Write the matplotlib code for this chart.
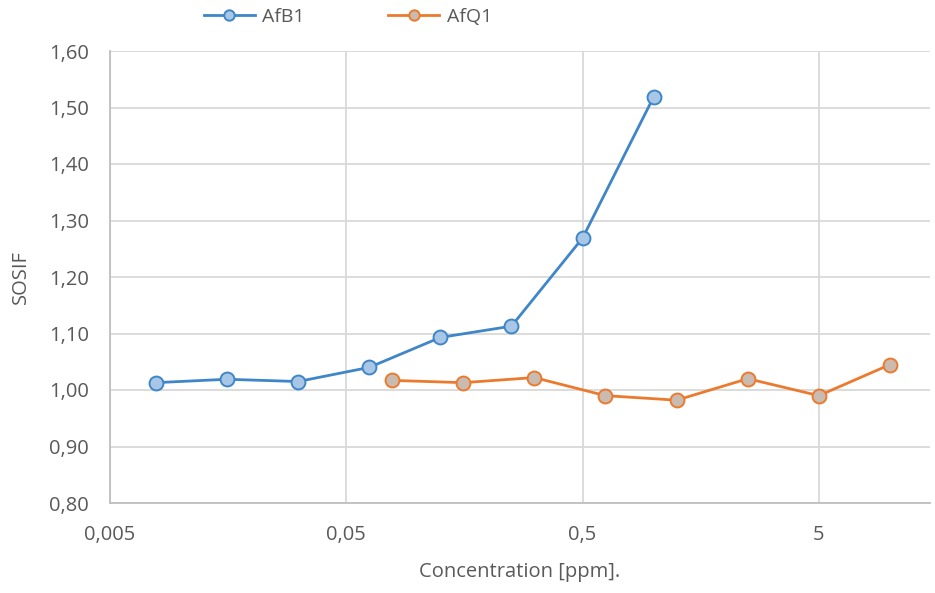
import matplotlib
matplotlib.use("Agg")
import matplotlib.pyplot as plt
from matplotlib.ticker import FixedLocator, FixedFormatter, NullLocator

# Data
afb1_x = [0.0078125, 0.015625, 0.03125, 0.0625, 0.125, 0.25, 0.5, 1.0]
afb1_y = [1.013, 1.019, 1.015, 1.040, 1.093, 1.113, 1.269, 1.519]
afq1_x = [0.078125, 0.15625, 0.3125, 0.625, 1.25, 2.5, 5.0, 10.0]
afq1_y = [1.017, 1.013, 1.022, 0.990, 0.982, 1.020, 0.990, 1.045]

x_ticks = [0.005, 0.05, 0.5, 5]
x_tick_labels = ["0,005", "0,05", "0,5", "5"]
y_ticks = [0.80, 0.90, 1.00, 1.10, 1.20, 1.30, 1.40, 1.50, 1.60]
y_tick_labels = ["0,80", "0,90", "1,00", "1,10", "1,20", "1,30", "1,40", "1,50", "1,60"]

plt.rcParams['font.family'] = ['Open Sans', 'DejaVu Sans']
txt = '#595959'

fig = plt.figure(figsize=(9.35, 5.93), dpi=100)
ax = fig.add_axes([110/935, 1-503/593, (930-110)/935, (503-51)/593])

blue = '#3F86C8'
orange = '#EC7A2E'
ax.plot(afb1_x, afb1_y, color=blue, lw=2.0, marker='o', ms=10,
        mfc='#A8C6E6', mec=blue, mew=1.4, label='AfB1', zorder=3)
ax.plot(afq1_x, afq1_y, color=orange, lw=2.0, marker='o', ms=10,
        mfc='#C9BBB0', mec=orange, mew=1.4, label='AfQ1', zorder=3)

ax.set_xscale('log')
ax.set_xlim(0.005, 0.005 * 10 ** ((930 - 110) / 236.3))
ax.set_ylim(0.80, 1.60)
ax.xaxis.set_major_locator(FixedLocator(x_ticks))
ax.xaxis.set_major_formatter(FixedFormatter(x_tick_labels))
ax.xaxis.set_minor_locator(NullLocator())
ax.yaxis.set_major_locator(FixedLocator(y_ticks))
ax.yaxis.set_major_formatter(FixedFormatter(y_tick_labels))

ax.grid(True, color='#D9D9D9', lw=1.3)
ax.set_axisbelow(True)
for s in ['top', 'right']:
    ax.spines[s].set_visible(False)
for s in ['left', 'bottom']:
    ax.spines[s].set_color('#BFBFBF')
    ax.spines[s].set_linewidth(1.3)
ax.tick_params(length=0, labelsize=14.5, colors=txt, pad=15)
ax.tick_params(axis='x', pad=16)

ax.set_xlabel('Concentration [ppm].', fontsize=14.5, color=txt, labelpad=12)
ax.set_ylabel('SOSIF', fontsize=14.5, color=txt, labelpad=13)

leg = fig.legend(loc='center', bbox_to_anchor=(348/935, 1-17/593), ncol=2,
                 frameon=False, fontsize=14, handlelength=2.6, markerscale=0.75,
                 columnspacing=4.3, handletextpad=0.4)
for t in leg.get_texts():
    t.set_color(txt)

fig.savefig('out.png', dpi=100)
